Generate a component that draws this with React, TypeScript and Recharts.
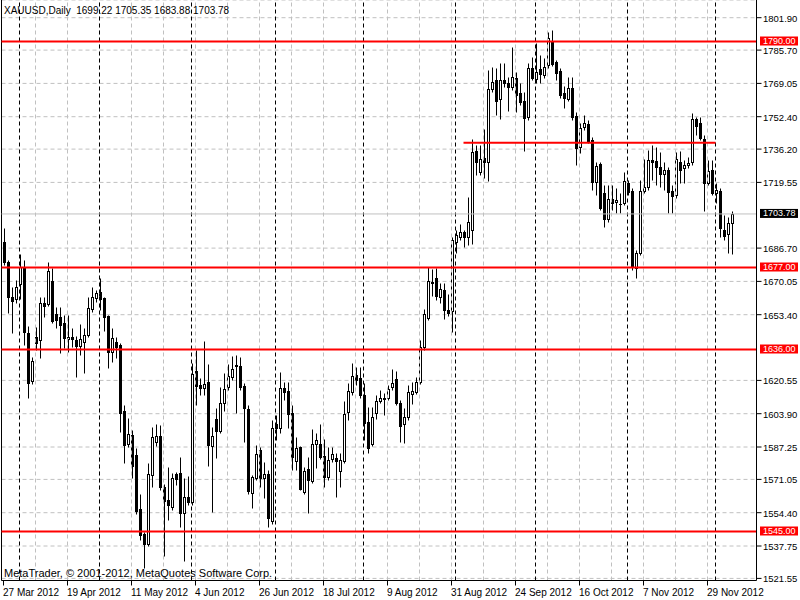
import React from 'react';
import { ComposedChart, Bar, XAxis, YAxis, CartesianGrid, ReferenceLine } from 'recharts';

const FONT = "'Liberation Sans', Arial, sans-serif";

const opens = [1689.75,1679.75,1662.25,1661.25,1668.75,1676.75,1644.25,1620.25,1642.25,1640.75,
1659.25,1658.75,1670.25,1653.75,1652.25,1649.25,1641.25,1642.25,1640.75,1637.75,
1639.75,1643.25,1656.25,1661.75,1664.75,1661.75,1652.75,1634.75,1639.75,1638.25,
1605.25,1588.75,1593.25,1583.25,1556.25,1543.75,1538.75,1573.25,1589.75,1592.75,
1567.25,1560.75,1557.25,1573.75,1574.25,1554.25,1562.25,1559.75,1625.25,1618.25,
1616.75,1619.75,1587.75,1601.25,1595.25,1609.25,1617.25,1622.25,1627.75,1627.75,
1617.75,1606.25,1564.25,1571.75,1585.75,1571.75,1573.75,1550.25,1598.75,1596.75,
1616.75,1615.25,1604.25,1580.25,1587.25,1564.75,1576.25,1570.25,1588.75,1588.75,
1582.75,1572.25,1581.25,1581.75,1575.25,1580.25,1604.75,1614.75,1623.25,1621.75,
1613.25,1599.75,1588.75,1604.25,1610.25,1611.75,1611.75,1617.25,1621.25,1609.25,
1598.75,1602.25,1613.75,1614.75,1619.75,1637.25,1651.75,1669.25,1671.75,1662.25,
1665.75,1655.75,1655.25,1689.75,1692.25,1694.75,1692.25,1695.75,1735.25,1724.75,
1731.75,1729.75,1766.25,1770.75,1761.25,1770.75,1769.25,1767.25,1771.75,1764.25,
1760.25,1752.25,1776.75,1771.25,1776.25,1773.25,1778.25,1790.25,1779.75,1775.25,
1764.25,1761.25,1766.75,1752.75,1737.25,1747.25,1748.75,1740.75,1719.75,1728.75,
1714.25,1701.25,1711.25,1709.75,1708.5,1709.25,1719.25,1715.25,1676.75,1684.25,
1715.25,1717.25,1730.75,1730.25,1727.25,1723.75,1725.75,1715.25,1713.25,1729.75,
1726.75,1728.25,1729.75,1751.25,1749.25,1741.25,1719.25,1725.75,1714.25,1715.25,
1695.75,1693.75,1699.22];

const highs = [1696.75,1680.75,1667.25,1670.75,1683.75,1680.75,1647.75,1632.25,1647.25,1662.25,
1662.25,1679.75,1676.75,1657.25,1657.25,1653.25,1653.25,1646.75,1642.75,1648.75,
1646.75,1662.25,1667.25,1665.75,1671.75,1662.25,1653.25,1646.75,1642.25,1639.25,
1608.25,1601.75,1595.75,1586.75,1563.75,1544.75,1579.25,1597.25,1598.75,1598.25,
1568.75,1577.25,1574.25,1574.75,1582.25,1571.75,1572.75,1629.25,1635.75,1621.75,
1640.25,1628.75,1597.25,1606.75,1617.25,1624.25,1628.75,1632.75,1633.25,1632.25,
1619.25,1608.25,1573.25,1588.25,1587.25,1579.75,1575.75,1600.75,1603.25,1624.75,
1619.75,1619.75,1608.25,1592.25,1587.75,1577.25,1582.25,1596.25,1594.25,1598.75,
1591.25,1587.25,1587.25,1584.25,1584.25,1610.25,1619.25,1629.25,1627.25,1627.25,
1619.25,1607.25,1607.25,1613.25,1615.75,1614.25,1618.25,1626.25,1625.25,1610.75,
1606.75,1618.25,1619.75,1622.25,1640.75,1656.25,1677.25,1676.25,1676.75,1669.25,
1669.25,1663.75,1692.25,1695.75,1698.75,1695.75,1712.25,1741.25,1738.25,1738.25,
1746.25,1775.75,1777.25,1776.75,1779.25,1779.25,1772.25,1787.25,1774.75,1769.25,
1764.75,1779.25,1782.25,1789.25,1783.25,1781.75,1794.75,1795.75,1780.75,1776.75,
1767.75,1772.25,1772.25,1754.75,1749.25,1753.25,1750.75,1742.25,1729.75,1729.75,
1718.25,1718.25,1718.25,1716.75,1714.25,1724.75,1720.75,1716.75,1685.75,1720.75,
1731.25,1735.75,1738.25,1737.25,1734.75,1729.75,1727.25,1718.25,1734.75,1735.25,
1730.75,1732.25,1754.25,1752.25,1752.25,1743.25,1730.75,1730.75,1719.25,1716.75,
1703.25,1702.25,1705.35];

const lows = [1678.25,1654.25,1644.25,1659.25,1661.25,1638.25,1611.75,1618.75,1635.75,1631.75,
1652.25,1657.75,1649.25,1646.75,1634.25,1636.75,1634.75,1637.25,1622.25,1633.25,
1624.25,1642.25,1654.75,1659.75,1655.75,1645.25,1626.75,1629.75,1631.75,1594.75,
1579.25,1587.25,1571.75,1553.75,1540.75,1526.75,1537.75,1567.25,1587.75,1565.75,
1532.75,1550.75,1555.75,1568.25,1547.25,1530.25,1558.25,1558.25,1608.25,1613.25,
1613.25,1577.75,1554.75,1581.75,1594.25,1605.25,1615.75,1620.75,1604.25,1615.75,
1589.75,1563.75,1556.75,1570.75,1567.25,1561.75,1547.25,1548.75,1590.75,1594.25,
1610.75,1596.75,1575.75,1575.75,1565.75,1563.75,1554.25,1569.25,1576.75,1581.25,
1567.25,1570.75,1579.75,1562.25,1567.25,1579.25,1600.75,1613.25,1618.25,1611.75,
1590.75,1584.25,1587.75,1601.25,1609.25,1603.25,1610.75,1615.75,1608.25,1589.75,
1589.25,1600.75,1608.75,1613.75,1618.75,1635.75,1650.75,1662.75,1660.75,1659.25,
1651.25,1652.75,1644.75,1684.25,1690.75,1687.25,1688.25,1688.75,1723.25,1723.25,
1721.75,1720.25,1764.75,1753.25,1751.25,1767.25,1755.25,1765.75,1754.75,1758.25,
1735.25,1750.75,1770.75,1769.25,1769.25,1771.75,1776.75,1777.75,1770.75,1761.75,
1756.75,1760.25,1750.75,1728.25,1734.25,1745.75,1739.25,1715.75,1713.25,1705.75,
1697.25,1699.75,1705.75,1704.25,1704.25,1708.25,1713.25,1675.75,1671.75,1683.25,
1714.25,1715.75,1720.75,1718.25,1717.25,1715.75,1704.25,1704.25,1711.75,1719.25,
1719.25,1726.75,1728.25,1743.25,1740.75,1705.25,1718.25,1713.25,1709.25,1692.25,
1690.75,1684.25,1683.88];

const closes = [1679.75,1662.25,1660.25,1667.25,1677.25,1644.75,1619.25,1630.25,1639.25,1659.25,
1657.75,1675.25,1650.25,1650.75,1648.25,1641.75,1642.25,1641.25,1637.75,1641.25,
1643.25,1656.75,1662.25,1664.25,1661.25,1652.25,1634.75,1641.75,1637.25,1604.25,
1588.25,1593.75,1577.75,1555.25,1543.25,1538.75,1573.75,1592.25,1592.75,1567.25,
1560.25,1558.25,1571.75,1571.25,1554.25,1562.25,1559.75,1623.75,1617.75,1616.75,
1618.75,1588.25,1592.75,1595.25,1609.25,1616.25,1622.75,1626.25,1628.25,1617.25,
1606.75,1565.25,1572.25,1583.75,1571.75,1573.75,1551.75,1596.75,1596.75,1616.75,
1614.75,1603.75,1582.25,1586.75,1566.25,1575.25,1570.75,1588.75,1590.75,1582.25,
1572.25,1580.75,1583.75,1580.25,1580.75,1603.75,1615.25,1622.75,1620.75,1613.25,
1599.25,1586.75,1602.25,1610.25,1611.75,1611.25,1616.25,1619.25,1609.25,1597.75,
1602.25,1614.75,1615.25,1619.75,1637.25,1653.75,1670.25,1669.75,1662.75,1666.25,
1655.75,1654.25,1690.75,1693.25,1694.75,1692.25,1699.75,1734.75,1729.75,1731.25,
1729.75,1766.25,1769.75,1760.25,1770.75,1769.25,1767.25,1772.25,1763.25,1759.75,
1751.75,1776.75,1771.75,1774.75,1773.75,1777.25,1791.75,1778.75,1774.25,1763.25,
1761.75,1766.75,1752.25,1736.75,1746.75,1749.25,1740.25,1719.75,1727.75,1706.75,
1701.25,1711.25,1709.25,1710.75,1708.75,1720.25,1714.75,1677.25,1684.25,1715.25,
1717.25,1730.75,1729.75,1727.25,1723.75,1725.75,1714.75,1712.75,1731.25,1725.75,
1728.25,1729.25,1751.25,1747.75,1741.75,1719.25,1725.25,1714.25,1715.75,1696.75,
1692.75,1699.25,1703.78];

const tickBars = [0, 16, 32, 48, 64, 80, 96, 112, 128, 144, 160, 176];
const tickLabels = ['27 Mar 2012', '19 Apr 2012', '11 May 2012', '4 Jun 2012', '26 Jun 2012', '18 Jul 2012',
  '9 Aug 2012', '31 Aug 2012', '24 Sep 2012', '16 Oct 2012', '7 Nov 2012', '29 Nov 2012'];
const priceTicks = [1521.55, 1537.75, 1554.40, 1571.05, 1587.25, 1603.90, 1620.55, 1653.40, 1670.05,
  1686.70, 1719.55, 1736.20, 1752.40, 1769.05, 1785.70, 1801.90];
const gridBars = [8, 16, 24, 32, 40, 48, 56, 64, 72, 80, 88, 96, 104, 112, 120, 128, 136, 144, 152, 160, 168, 176];
const monthStarts = [4, 24, 47, 68, 90, 113, 133, 156, 178];
const levels = [1790.0, 1677.0, 1636.0, 1545.0];
const trendLevel = 1739.4;
const trendFrom = 115;
const trendTo = 178;
const lastPrice = 1703.78;

const data = opens.map((o, i) => ({ i, o, h: highs[i], l: lows[i], c: closes[i], range: [lows[i], highs[i]] }));

function Candle(props: any) {
  const { x, y, width, height, payload } = props;
  if (!payload || x == null || y == null) return null;
  const top = Math.min(y, y + height);
  const span = Math.abs(height);
  const { o, h, l, c } = payload;
  const k = h - l > 0 ? span / (h - l) : 0;
  const cx = Math.floor(x + width / 2) + 0.5;
  const yO = top + (h - o) * k;
  const yC = top + (h - c) * k;
  const bt = Math.round(Math.min(yO, yC)) + 0.5;
  const bb = Math.round(Math.max(yO, yC)) + 0.5;
  const wt = Math.round(top) + 0.5;
  const wb = Math.round(top + span) + 0.5;
  const up = c >= o;
  return (
    <g>
      <line x1={cx} x2={cx} y1={wt} y2={wb} stroke="#000" strokeWidth={1} />
      {bb - bt >= 1 ? (
        <rect x={cx - 1} y={bt} width={2} height={bb - bt} fill={up ? '#fff' : '#000'} stroke="#000" strokeWidth={1} />
      ) : (
        <line x1={cx - 1.5} x2={cx + 1.5} y1={bt} y2={bt} stroke="#000" strokeWidth={1} />
      )}
    </g>
  );
}

function Tag(props: any) {
  const { viewBox, text, bg } = props;
  if (!viewBox) return null;
  const right = viewBox.x + viewBox.width;
  const cy = viewBox.y;
  return (
    <g>
      <rect x={right + 3.5} y={cy - 5} width={38} height={9} fill={bg} />
      <text x={right + 6.5} y={cy + 2.5} fill="#fff" fontSize={9} fontFamily={FONT}>{text}</text>
    </g>
  );
}

function XTick(props: any) {
  const idx = tickBars.indexOf(props.payload.value);
  if (idx < 0) return null;
  return (
    <text x={props.x - 0.5} y={props.y} dy={8.5} fontSize={10} fontFamily={FONT} fill="#000" textAnchor="start">
      {tickLabels[idx]}
    </text>
  );
}

function YTick(props: any) {
  return (
    <text x={props.x} y={props.y} dy={4} fontSize={9.5} fontFamily={FONT} fill="#000" textAnchor="start">
      {Number(props.payload.value).toFixed(2)}
    </text>
  );
}

export default function App() {
  return (
    <div style={{ position: 'absolute', left: 0, top: 0, width: 800, height: 600, background: '#fff', overflow: 'hidden' }}>
      <ComposedChart width={800} height={600} data={data} margin={{ top: 0, right: 0, bottom: 0, left: 1.5 }}>
        <CartesianGrid vertical={false} stroke="#c0c0c0" strokeDasharray="4 3" />
        <XAxis
          dataKey="i"
          type="category"
          ticks={tickBars}
          interval={0}
          tick={<XTick />}
          tickSize={5}
          tickMargin={2}
          height={19.5}
          padding={{ left: 0, right: 23 }}
          axisLine={{ stroke: '#000' }}
          tickLine={{ stroke: '#000' }}
        />
        <YAxis
          orientation="right"
          type="number"
          domain={[1520.5, 1810.75]}
          ticks={priceTicks}
          interval={0}
          width={43.5}
          tick={<YTick />}
          tickSize={5}
          tickMargin={1.5}
          axisLine={{ stroke: '#000' }}
          tickLine={{ stroke: '#000' }}
        />
        {gridBars.map((b) => (
          <ReferenceLine key={'g' + b} x={b} stroke="#c0c0c0" strokeDasharray="4 3" />
        ))}
        {monthStarts.map((b) => (
          <ReferenceLine key={'m' + b} x={b} stroke="#000" strokeDasharray="4 3" />
        ))}
        <ReferenceLine x={0} position="start" stroke="#000" />
        <ReferenceLine
          y={lastPrice}
          stroke="#c0c0c0"
          label={{ content: (p: any) => <Tag viewBox={p.viewBox} text={lastPrice.toFixed(2)} bg="#000" /> }}
        />
        <Bar dataKey="range" barSize={3} shape={<Candle />} isAnimationActive={false} />
        {levels.map((v) => (
          <ReferenceLine
            key={'l' + v}
            y={v}
            stroke="#ff0000"
            strokeWidth={2}
            label={{ content: (p: any) => <Tag viewBox={p.viewBox} text={v.toFixed(2)} bg="#ff0000" /> }}
          />
        ))}
        <ReferenceLine
          segment={[{ x: trendFrom, y: trendLevel }, { x: trendTo, y: trendLevel }]}
          stroke="#ff0000"
          strokeWidth={2}
        />
      </ComposedChart>
      <div style={{ position: 'absolute', left: 4, top: 5.5, fontFamily: FONT, fontSize: 10, lineHeight: '10px', color: '#000', whiteSpace: 'pre' }}>
        {'XAUUSD,Daily  1699.22 1705.35 1683.88 1703.78'}
      </div>
      <div style={{ position: 'absolute', left: 4, top: 568, fontFamily: FONT, fontSize: 11, lineHeight: '11px', color: '#000', whiteSpace: 'pre' }}>
        {'MetaTrader, \u00A9 2001-2012, MetaQuotes Software Corp.'}
      </div>
    </div>
  );
}
